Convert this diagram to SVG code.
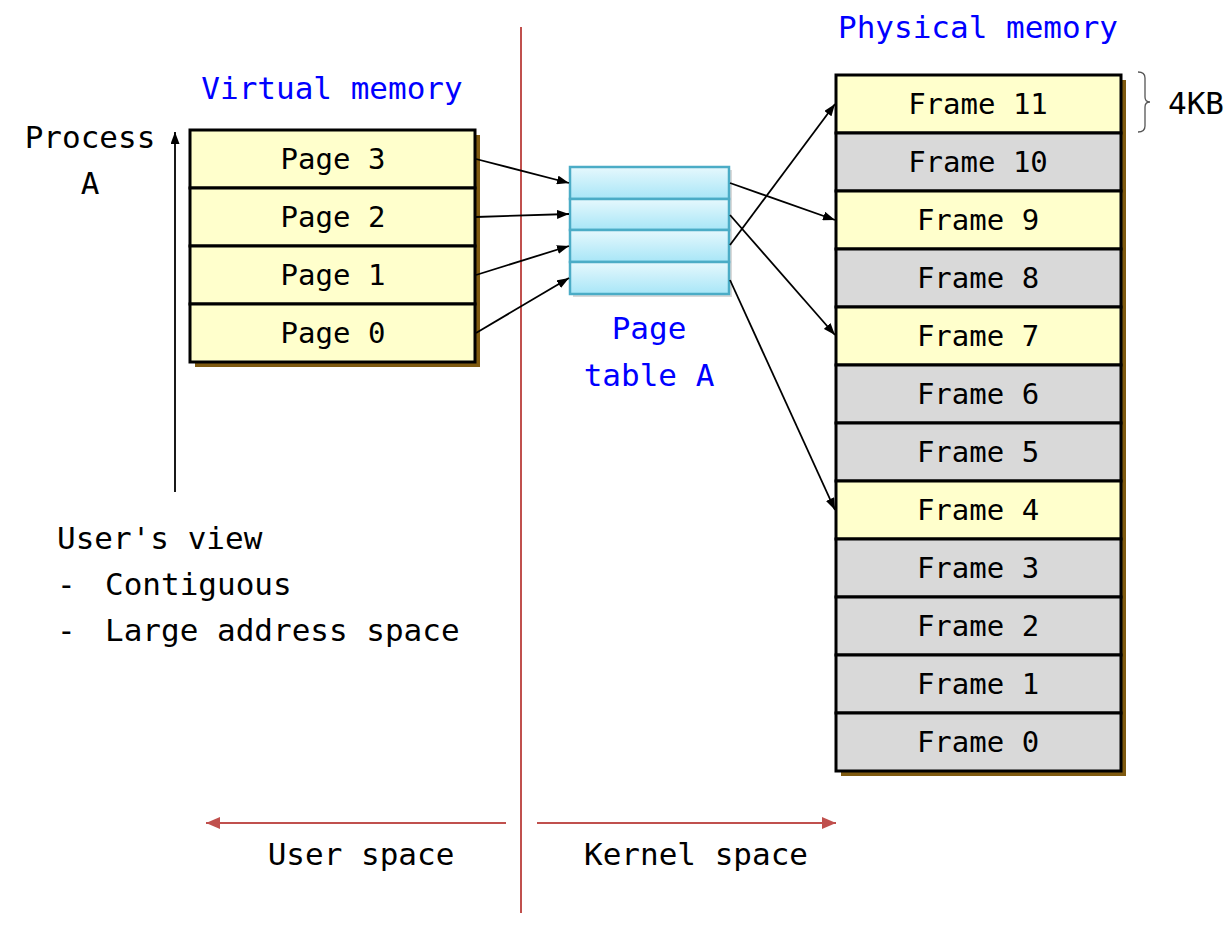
<svg xmlns="http://www.w3.org/2000/svg" width="1232" height="930" viewBox="0 0 1232 930">
<defs>
<style>
text{font-family:"DejaVu Sans Mono","Liberation Mono",monospace;}
.t{font-size:29px;fill:#000;text-anchor:middle;}
.lb{font-size:31px;fill:#000;}
.bl{font-size:31px;fill:#0000ff;text-anchor:middle;}
.y{fill:#ffffcc;stroke:#000;stroke-width:3;}
.g{fill:#d9d9d9;stroke:#000;stroke-width:3;}
.sh{fill:#7f5a10;}
.pt{fill:url(#cy);stroke:#4bacc6;stroke-width:2.5;}
.c{stroke:#000;stroke-width:1.8;fill:none;marker-end:url(#ah);}
.r{stroke:#c0504d;stroke-width:2;fill:none;}
</style>
<linearGradient id="cy" x1="0" y1="0" x2="0" y2="1">
<stop offset="0" stop-color="#e6f8fd"/>
<stop offset="1" stop-color="#a8e6f7"/>
</linearGradient>
<marker id="ah" markerWidth="12" markerHeight="9" refX="12" refY="4.5" orient="auto" markerUnits="userSpaceOnUse" viewBox="0 0 12 9"><path d="M0,0 L12,4.5 L0,9 Z" fill="#000"/></marker>
<marker id="rh" markerWidth="14" markerHeight="12" refX="14" refY="6" orient="auto" markerUnits="userSpaceOnUse" viewBox="0 0 14 12"><path d="M0,0 L14,6 L0,12 Z" fill="#c0504d"/></marker>
</defs>
<rect width="1232" height="930" fill="#fff"/>

<g id="divider">
<line class="r" x1="521" y1="27" x2="521" y2="913"/>
<line class="r" x1="506" y1="823" x2="206" y2="823" marker-end="url(#rh)"/>
<line class="r" x1="537" y1="823" x2="836" y2="823" marker-end="url(#rh)"/>
<text class="lb" x="361" y="865" text-anchor="middle">User space</text>
<text class="lb" x="696" y="865" text-anchor="middle">Kernel space</text>
</g>

<g id="process-a">
<text class="lb" x="90" y="148" text-anchor="middle">Process</text>
<text class="lb" x="90" y="194" text-anchor="middle">A</text>
<line x1="175" y1="492" x2="175" y2="132" stroke="#000" stroke-width="1.8" marker-end="url(#ah)"/>
</g>

<g id="users-view">
<text class="lb" x="57" y="549">User's view</text>
<text class="lb" x="57" y="595">-</text>
<text class="lb" x="105" y="595">Contiguous</text>
<text class="lb" x="57" y="641">-</text>
<text class="lb" x="105" y="641">Large address space</text>
</g>

<g id="virtual-memory">
<text class="bl" x="332" y="99">Virtual memory</text>
<rect class="sh" x="195" y="135" width="285" height="232"/>
<rect class="y" x="190" y="130" width="285" height="58"/>
<rect class="y" x="190" y="188" width="285" height="58"/>
<rect class="y" x="190" y="246" width="285" height="58"/>
<rect class="y" x="190" y="304" width="285" height="58"/>
<text class="t" x="333" y="169">Page 3</text>
<text class="t" x="333" y="227">Page 2</text>
<text class="t" x="333" y="285">Page 1</text>
<text class="t" x="333" y="343">Page 0</text>
</g>

<g id="page-table-a">
<rect x="573" y="170" width="159" height="127" fill="#000" opacity="0.15"/>
<rect class="pt" x="570" y="167" width="159" height="32"/>
<rect class="pt" x="570" y="199" width="159" height="31"/>
<rect class="pt" x="570" y="230" width="159" height="32"/>
<rect class="pt" x="570" y="262" width="159" height="32"/>
<text class="bl" x="649" y="339">Page</text>
<text class="bl" x="649" y="386">table A</text>
</g>

<g id="physical-memory">
<text class="bl" x="978" y="38">Physical memory</text>
<rect class="sh" x="841" y="80" width="285" height="696"/>
<rect class="y" x="836" y="75" width="285" height="58"/>
<rect class="g" x="836" y="133" width="285" height="58"/>
<rect class="y" x="836" y="191" width="285" height="58"/>
<rect class="g" x="836" y="249" width="285" height="58"/>
<rect class="y" x="836" y="307" width="285" height="58"/>
<rect class="g" x="836" y="365" width="285" height="58"/>
<rect class="g" x="836" y="423" width="285" height="58"/>
<rect class="y" x="836" y="481" width="285" height="58"/>
<rect class="g" x="836" y="539" width="285" height="58"/>
<rect class="g" x="836" y="597" width="285" height="58"/>
<rect class="g" x="836" y="655" width="285" height="58"/>
<rect class="g" x="836" y="713" width="285" height="58"/>
<text class="t" x="978" y="114">Frame 11</text>
<text class="t" x="978" y="172">Frame 10</text>
<text class="t" x="978" y="230">Frame 9</text>
<text class="t" x="978" y="288">Frame 8</text>
<text class="t" x="978" y="346">Frame 7</text>
<text class="t" x="978" y="404">Frame 6</text>
<text class="t" x="978" y="462">Frame 5</text>
<text class="t" x="978" y="520">Frame 4</text>
<text class="t" x="978" y="578">Frame 3</text>
<text class="t" x="978" y="636">Frame 2</text>
<text class="t" x="978" y="694">Frame 1</text>
<text class="t" x="978" y="752">Frame 0</text>
<path d="M1138,72 Q1145,72 1145,78 L1145,97 Q1145,102 1150,102 Q1145,102 1145,107 L1145,126 Q1145,132 1138,132" fill="none" stroke="#555" stroke-width="1.3"/>
<text class="lb" x="1168" y="114">4KB</text>
</g>

<g id="connectors">
<line class="c" x1="476" y1="159" x2="569" y2="183"/>
<line class="c" x1="476" y1="217" x2="569" y2="214"/>
<line class="c" x1="476" y1="275" x2="569" y2="246"/>
<line class="c" x1="476" y1="333" x2="569" y2="278"/>
<line class="c" x1="730" y1="183" x2="835" y2="220"/>
<line class="c" x1="730" y1="215" x2="835" y2="335"/>
<line class="c" x1="730" y1="245" x2="835" y2="104"/>
<line class="c" x1="730" y1="280" x2="835" y2="510"/>
</g>
</svg>
